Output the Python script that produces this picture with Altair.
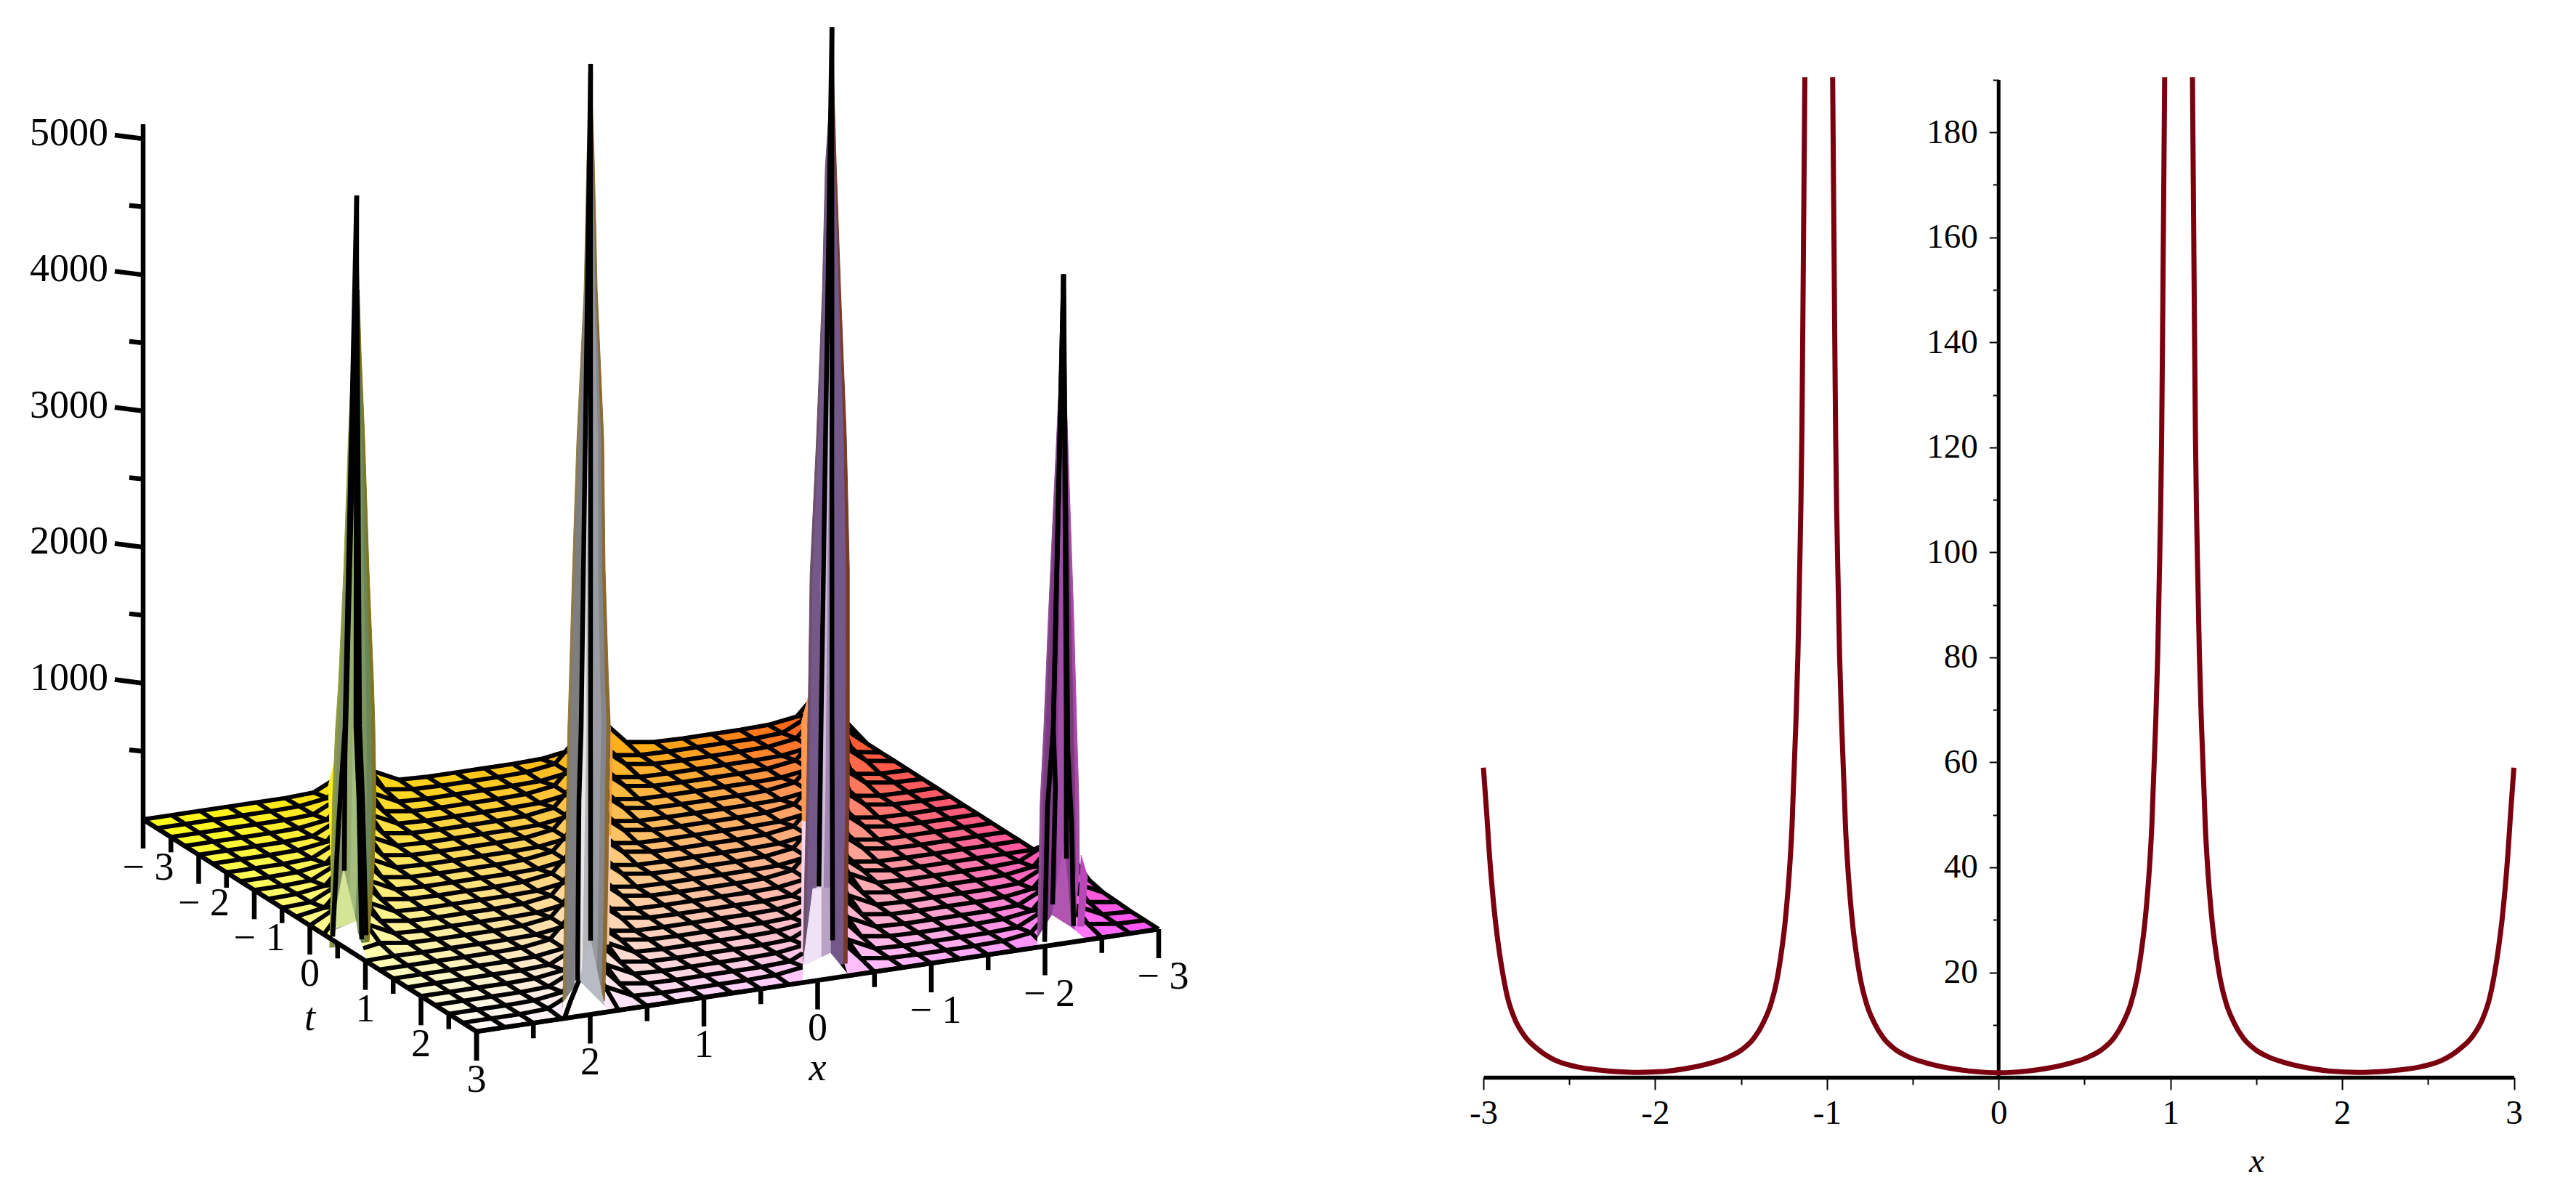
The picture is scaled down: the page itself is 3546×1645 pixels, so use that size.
import altair as alt
import pandas as pd

alt.data_transformers.disable_max_rows()

# --- right panel: curve, one list pair per branch ---
branch_a_x = [-3.0, -2.98, -2.966, -2.949, -2.931, -2.91, -2.888, -2.86, -2.818, -2.761, -2.677, -2.578, -2.465, -2.324,
              -2.264, -2.09, -1.926, -1.8, -1.672, -1.573, -1.496, -1.425, -1.369, -1.3265, -1.2913, -1.266, -1.2462, -1.2292,
              -1.2137, -1.2024, -1.1968, -1.1813, -1.1686, -1.1601, -1.1517, -1.146, -1.141, -1.136, -1.131, -1.1284]
branch_a_y = [59, 49.9, 42.9, 36, 30, 24.5, 19.9, 15.3, 11.15, 7.9, 5.2, 3.2, 2.07, 1.38,
              1.2, 0.95, 1.2, 1.8, 2.76, 3.87, 5.25, 7.46, 10.5, 13.9, 18.5, 23.6, 28.7, 34.6,
              41.6, 48.5, 53.6, 66.9, 80.7, 94.5, 108.4, 122, 140, 160, 180, 190.5]
branch_b_x = [-0.9666, -0.964, -0.959, -0.954, -0.949, -0.9433, -0.9349, -0.9264, -0.9137, -0.8982, -0.8926, -0.8813, -0.8658, -0.8488,
              -0.829, -0.8037, -0.7685, -0.726, -0.67, -0.599, -0.522, -0.423, -0.296, -0.169, 0,
              0.169, 0.296, 0.423, 0.522, 0.599, 0.67, 0.726, 0.7685, 0.8037, 0.829, 0.8488, 0.8658, 0.8813, 0.8926, 0.8982,
              0.9137, 0.9264, 0.9349, 0.9433, 0.949, 0.954, 0.959, 0.964, 0.9666]
branch_b_y = [190.5, 180, 160, 140, 122, 108.4, 94.5, 80.7, 66.9, 53.6, 48.5, 41.6, 34.6, 28.7,
              23.6, 18.5, 13.9, 10.5, 7.46, 5.25, 3.87, 2.76, 1.8, 1.2, 0.87,
              1.2, 1.8, 2.76, 3.87, 5.25, 7.46, 10.5, 13.9, 18.5, 23.6, 28.7, 34.6, 41.6, 48.5, 53.6,
              66.9, 80.7, 94.5, 108.4, 122, 140, 160, 180, 190.5]
branch_c_x = [1.1284, 1.131, 1.136, 1.141, 1.146, 1.1517, 1.1601, 1.1686, 1.1813, 1.1968, 1.2024, 1.2137, 1.2292, 1.2462, 1.266, 1.2913,
              1.3265, 1.369, 1.425, 1.496, 1.573, 1.672, 1.8, 1.926, 2.09, 2.264, 2.324, 2.465, 2.578, 2.677, 2.761, 2.818,
              2.86, 2.888, 2.91, 2.931, 2.949, 2.966, 2.98, 3.0]
branch_c_y = [190.5, 180, 160, 140, 122, 108.4, 94.5, 80.7, 66.9, 53.6, 48.5, 41.6, 34.6, 28.7, 23.6, 18.5,
              13.9, 10.5, 7.46, 5.25, 3.87, 2.76, 1.8, 1.2, 0.95, 1.2, 1.38, 2.07, 3.2, 5.2, 7.9, 11.15,
              15.3, 19.9, 24.5, 30, 36, 42.9, 49.9, 59]

x_ticks = [-3, -2.5, -2, -1.5, -1, -0.5, 0, 0.5, 1, 1.5, 2, 2.5, 3]
y_ticks = [10, 20, 30, 40, 50, 60, 70, 80, 90, 100, 110, 120, 130, 140, 150, 160, 170, 180, 190]

# --- left panel: surface heights, rows t=-3..3, columns x=3..-3 in steps of 0.25 ---
t_grid = [-3, -2.75, -2.5, -2.25, -2, -1.75, -1.5, -1.25, -1, -0.75, -0.5, -0.25, 0,
          0.25, 0.5, 0.75, 1, 1.25, 1.5, 1.75, 2, 2.25, 2.5, 2.75, 3]
x_grid = [3, 2.75, 2.5, 2.25, 2, 1.75, 1.5, 1.25, 1, 0.75, 0.5, 0.25, 0,
          -0.25, -0.5, -0.75, -1, -1.25, -1.5, -1.75, -2, -2.25, -2.5, -2.75, -3]
z_rows = [
    [0, 0, 0, 0, 0, 0, 10, 110, 110, 10, 0, 0, 0, 0, 5, 35, 250, 35, 5, 0, 0, 0, 5, 35, 250],
    [0, 0, 0, 0, 0, 5, 35, 250, 35, 5, 0, 0, 0, 5, 35, 250, 35, 5, 0, 0, 0, 0, 10, 110, 110],
    [0, 0, 0, 0, 0, 10, 110, 110, 10, 0, 0, 0, 0, 5, 35, 250, 35, 5, 0, 0, 0, 5, 35, 250, 0],
    [0, 0, 0, 0, 5, 35, 250, 35, 5, 0, 0, 0, 5, 35, 250, 35, 5, 0, 0, 0, 0, 5, 35, 250, 0],
    [0, 0, 0, 0, 10, 110, 110, 10, 0, 0, 0, 0, 5, 35, 250, 35, 5, 0, 0, 0, 5, 35, 250, 35, 0],
    [0, 0, 0, 5, 35, 250, 35, 5, 0, 0, 0, 5, 35, 250, 35, 5, 0, 0, 0, 0, 5, 35, 250, 35, 0],
    [0, 0, 0, 10, 110, 110, 10, 0, 0, 0, 0, 5, 35, 250, 35, 5, 0, 0, 0, 5, 35, 250, 35, 5, 0],
    [0, 0, 5, 35, 250, 35, 5, 0, 0, 0, 5, 35, 250, 35, 5, 0, 0, 0, 0, 5, 35, 250, 35, 5, 0],
    [0, 0, 10, 110, 110, 10, 0, 0, 0, 0, 5, 35, 250, 35, 5, 0, 0, 0, 5, 35, 250, 35, 5, 0, 0],
    [0, 5, 35, 250, 35, 5, 0, 0, 0, 5, 35, 250, 35, 5, 0, 0, 0, 0, 5, 35, 250, 35, 5, 0, 0],
    [0, 10, 110, 110, 10, 0, 0, 0, 0, 5, 35, 250, 35, 5, 0, 0, 0, 5, 35, 250, 35, 5, 0, 0, 0],
    [0, 35, 250, 35, 5, 0, 0, 0, 5, 35, 250, 35, 5, 0, 0, 0, 0, 5, 35, 250, 35, 5, 0, 0, 0],
    [0, 110, 110, 10, 0, 0, 0, 0, 5, 35, 250, 35, 5, 0, 0, 0, 5, 35, 250, 35, 5, 0, 0, 0, 0],
    [0, 250, 35, 5, 0, 0, 0, 5, 35, 250, 35, 5, 0, 0, 0, 0, 5, 35, 250, 35, 5, 0, 0, 0, 0],
    [0, 110, 10, 0, 0, 0, 0, 5, 35, 250, 35, 5, 0, 0, 0, 5, 35, 250, 35, 5, 0, 0, 0, 0, 0],
    [0, 35, 5, 0, 0, 0, 5, 35, 250, 35, 5, 0, 0, 0, 0, 5, 35, 250, 35, 5, 0, 0, 0, 0, 0],
    [0, 5, 0, 0, 0, 0, 5, 35, 250, 35, 5, 0, 0, 0, 0, 10, 110, 110, 10, 0, 0, 0, 0, 10, 110],
    [0, 0, 0, 0, 0, 5, 35, 250, 35, 5, 0, 0, 0, 0, 5, 35, 250, 35, 5, 0, 0, 0, 5, 35, 250],
    [0, 0, 0, 0, 0, 5, 35, 250, 35, 5, 0, 0, 0, 0, 10, 110, 110, 10, 0, 0, 0, 0, 10, 110, 110],
    [0, 0, 0, 0, 0, 10, 110, 110, 10, 0, 0, 0, 0, 5, 35, 250, 35, 5, 0, 0, 0, 5, 35, 250, 35],
    [0, 0, 0, 0, 5, 35, 250, 35, 5, 0, 0, 0, 0, 10, 110, 110, 10, 0, 0, 0, 0, 10, 110, 110, 10],
    [0, 0, 0, 0, 10, 110, 110, 10, 0, 0, 0, 0, 5, 35, 250, 35, 5, 0, 0, 0, 5, 35, 250, 35, 5],
    [0, 0, 0, 5, 35, 250, 35, 5, 0, 0, 0, 0, 10, 110, 110, 10, 0, 0, 0, 0, 10, 110, 110, 10, 0],
    [0, 0, 0, 10, 110, 110, 10, 0, 0, 0, 0, 5, 35, 250, 35, 5, 0, 0, 0, 5, 35, 250, 35, 5, 0],
    [0] * 25,
]

# the four spikes: foot on the floor, then left/right edge (x units) at each height
spikes = [
    {"foot": (0.78, 3.0),
     "z": [64, 598, 1131, 1665, 1985, 2796, 3767, 4413, 4867, 5560],
     "left": [-0.206, -0.193, -0.182, -0.155, -0.129, -0.084, -0.043, -0.008, 0.008, 0.027],
     "right": [0.139, 0.184, 0.201, 0.19, 0.178, 0.139, 0.101, 0.069, 0.053, 0.034],
     "colors": ["#8c9a3c", "#7f8e64", "#98ae70", "#a4bc7c", "#7a9560", "#6a8556", "#7f7520"],
     "lines": [[(-0.18, 144), (-0.129, 955), (-0.072, 1665), (0.031, 5560)],
               [(-0.078, 614), (-0.072, 1451), (0.031, 4867)],
               [(0.075, 91), (0.05, 1131), (0.024, 1665), (0.031, 5560)],
               [(0.114, 117), (0.082, 1131), (0.056, 1665), (0.034, 4867)]],
     "flares": [("#f8ee20", [(0.78, 3.167, 1419), (0.78, 3.219, 1255), (0.78, 3.193, 622), (0.78, 3.167, 618)])],
     "light": [("#d6e496", [(0.4, 3, 72), (0.608, 3, 568), (0.83, 3, 245)])],
     "notch": [(0.37, 3, 48), (0.83, 3, 245), (0.856, 3, 174), (1.01, 3, 27), (1.01, 3, 0), (0.44, 3, 0)]},
    {"foot": (3, 2.0),
     "z": [83, 515, 1049, 1582, 2116, 2436, 3247, 4218, 5318, 6278, 6982],
     "left": [-0.24, -0.233, -0.22, -0.208, -0.197, -0.185, -0.157, -0.118, -0.054, -0.029, 0],
     "right": [0.125, 0.144, 0.157, 0.163, 0.176, 0.16, 0.131, 0.118, 0.061, 0.035, 0.006],
     "colors": ["#8f7a48", "#7e7e80", "#e8e8ea", "#b8b8bc", "#9a9aa2", "#85858c", "#8a6a30"],
     "lines": [[(-0.112, 264), (-0.099, 1582), (-0.08, 2116), (0.003, 6919)],
               [(0.003, 542), (0.003, 2116), (0.003, 6982)],
               [(-0.099, 264), (-0.176, 115), (-0.227, 0)]],
     "flares": [("#f7a040", [(3, 1.824, 2094), (3, 1.805, 1934), (3, 1.821, 1292), (3, 1.837, 1294)]),
                ("#f6c8a8", [(3, 1.821, 1292), (3, 1.837, 495), (3, 1.856, 497), (3, 1.837, 1294)])],
     "light": [("#b9bcc4", [(3, 2.099, 260), (3, 1.997, 541), (3, 1.875, 46)])],
     "notch": [(3, 2.24, 113), (3, 2.099, 260), (3, 1.875, 46), (3, 1.85, 0), (3, 2.24, 0)]},
    {"foot": (3, -0.1),
     "z": [91, 784, 1318, 2118, 2983, 3954, 5054, 5961, 6495, 6985],
     "left": [-0.23, -0.213, -0.198, -0.181, -0.166, -0.111, -0.058, -0.032, 0.01, 0.026],
     "right": [0.16, 0.166, 0.179, 0.179, 0.179, 0.153, 0.102, 0.064, 0.045, 0.032],
     "colors": ["#6c4f66", "#74588a", "#d0bcdc", "#a088b2", "#75588a", "#75588a", "#7a3a28"],
     "lines": [[(-0.089, 688), (-0.07, 1852), (0.026, 6985)],
               [(0.032, 277), (0.026, 2118), (0.026, 6985)]],
     "flares": [("#ff9a50", [(3, 0.085, 2088), (3, 0.143, 1909), (3, 0.136, 1187), (3, 0.098, 1183)]),
                ("#ffd8f0", [(3, 0.136, 1187), (3, 0.143, 228), (3, 0.124, 225), (3, 0.098, 1183)])],
     "light": [("#efe2f5", [(3, 0.13, 120), (3, 0.041, 679), (3, -0.036, 672), (3, -0.036, 165)]),
               ("#b9a4c6", [(3, -0.036, 165), (3, -0.036, 672), (3, -0.113, 665), (3, -0.113, 185)])],
     "notch": [(3, 0.13, 120), (3, -0.113, 185), (3, -0.26, 17), (3, -0.298, 0), (3, 0.13, 0)]},
    {"foot": (3, -2.15),
     "z": [37, 528, 1062, 1595, 2396, 3196, 3997, 4915],
     "left": [-0.217, -0.204, -0.192, -0.16, -0.121, -0.077, -0.032, 0.01],
     "right": [0.102, 0.153, 0.147, 0.128, 0.102, 0.07, 0.038, 0.016],
     "colors": ["#8a4a90", "#7c3a80", "#8a4090", "#a04ca8", "#86408c", "#7a3a7a", "#a84aa8"],
     "lines": [[(-0.153, 32), (-0.128, 1025), (-0.077, 1595), (0.013, 4915)],
               [(-0.083, 299), (-0.058, 1158), (-0.077, 1595), (0.013, 4915)],
               [(0.038, 619), (0.038, 1595), (0.013, 4915)],
               [(0.102, 117), (0.083, 886), (0.051, 1420), (0.013, 4915)]],
     "flares": [("#b848b8", [(3, -2.316, 630), (3, -2.374, 463), (3, -2.342, 104), (3, -2.284, 111)])],
     "light": [("#b055b0", [(3, -2.061, 219), (3, -2.169, 739), (3, -2.233, 107)])],
     "notch": [(3, -1.933, 65), (3, -2.061, 219), (3, -2.233, 107), (3, -2.361, 0), (3, -1.933, 0)]},
]
spike_bands = [0, 0.07, 0.28, 0.45, 0.62, 0.8, 0.92, 1]

z_major = [1000, 2000, 3000, 4000, 5000]
z_minor = [500, 1500, 2500, 3500, 4500]
t_major = [-3, -2, -1, 0, 1, 2, 3]
t_minor = [-2.5, -1.5, -0.5, 0.5, 1.5, 2.5]
x_labelled = [-3, -2, -1, 0, 1, 2]


def proj(t, x, z=0):
    # Maple's view of the box, fitted on the corners of the floor
    return 896 + 76.5 * t - 156.5 * x, 1203.5 + 48.67 * t + 23.5 * x - 0.1874 * z


def floor_color(t, x):
    # red stays full, green falls with x (faster near x=-3), blue grows with t
    g = 255 - 19 * (3 - x) if x >= -1.5 else 170 - 58 * (-1.5 - x)
    b = 20 + 39 * (t + 3)
    return "#ff%02x%02x" % (int(g), int(b))


def tick_label(v):
    return ("\u2212 %d" % -v) if v < 0 else str(v)


PANEL_W = 1800
PANEL_H = 1629
SX = alt.X("sx:Q", scale=alt.Scale(domain=[8, 8 + PANEL_W], nice=False, zero=False), axis=None)
SY = alt.Y("sy:Q", scale=alt.Scale(domain=[8 + PANEL_H, 8], nice=False, zero=False), axis=None)

polys = []
lines = []
texts = []


def add_poly(name, color, pts):
    for k, p in enumerate(pts):
        polys.append({"id": name, "c": color, "k": k, "sx": p[0], "sy": p[1]})


def add_line(name, pts, layer="grid"):
    for k, p in enumerate(pts):
        lines.append({"id": name, "k": k, "sx": p[0], "sy": p[1], "layer": layer})


# floor cells and grid
for j in range(24):
    for i in range(24):
        corners = [(j, i), (j + 1, i), (j + 1, i + 1), (j, i + 1)]
        pts = [proj(t_grid[a], x_grid[b], z_rows[a][b]) for a, b in corners]
        add_poly("cell%d_%d" % (j, i), floor_color((t_grid[j] + t_grid[j + 1]) / 2, (x_grid[i] + x_grid[i + 1]) / 2), pts)
for j in range(25):
    add_line("row%d" % j, [proj(t_grid[j], x_grid[i], z_rows[j][i]) for i in range(25)])
for i in range(25):
    add_line("col%d" % i, [proj(t_grid[j], x_grid[i], z_rows[j][i]) for j in range(25)])

floor_cells = pd.DataFrame(polys)
polys = []

# spikes
for n, s in enumerate(spikes):
    t0, x0 = s["foot"]
    for m, (col, pts) in enumerate(s["flares"]):
        add_poly("s%d_f%d" % (n, m), col, [proj(*p) for p in pts])
    for b in range(len(spike_bands) - 1):
        f1, f2 = spike_bands[b], spike_bands[b + 1]
        up = [proj(t0, x0 - (l + (r - l) * f1), z) for l, r, z in zip(s["left"], s["right"], s["z"])]
        down = [proj(t0, x0 - (l + (r - l) * f2), z) for l, r, z in zip(s["left"], s["right"], s["z"])]
        add_poly("s%d_b%d" % (n, b), s["colors"][b], up + down[::-1])
    for m, (col, pts) in enumerate(s["light"]):
        add_poly("s%d_light%d" % (n, m), col, [proj(*p) for p in pts])
    add_poly("s%d_notch" % n, "#ffffff", [proj(*p) for p in s["notch"]])
    for m, ln in enumerate(s["lines"]):
        add_line("s%d_l%d" % (n, m), [proj(t0, x0 - u, z) for u, z in ln], "spike")
spike_polys = pd.DataFrame(polys)

# edges drawn again over the notches
add_line("edge_t3", [proj(3, v) for v in (3, -3)], "spike")
add_line("edge_x3", [proj(v, 3) for v in (-3, 3)], "spike")

# box axes
for v in t_major + t_minor:
    sx, sy = proj(v, 3)
    add_line("t%s" % v, [(sx, sy), (sx, sy + (40 if v in t_major else 21))], "spike")
    sx2, sy2 = proj(3, -v)
    add_line("x%s" % v, [(sx2, sy2), (sx2, sy2 + (40 if v in t_major else 21))], "spike")
for v in t_major:
    sx, sy = proj(v, 3)
    texts.append({"sx": sx + (7 if v < 0 else 0), "sy": sy + 67, "label": tick_label(v), "style": "normal", "align": "center"})
for v in x_labelled:
    sx, sy = proj(3, v)
    texts.append({"sx": sx + (6 if v < 0 else 0), "sy": sy + 66, "label": tick_label(v), "style": "normal", "align": "center"})
sx, sy = proj(0, 3)
texts.append({"sx": sx, "sy": sy + 128, "label": "t", "style": "italic", "align": "center"})
sx, sy = proj(3, 0)
texts.append({"sx": sx, "sy": sy + 121, "label": "x", "style": "italic", "align": "center"})

base_x, base_y = proj(-3, 3)
add_line("zaxis", [(base_x, base_y), proj(-3, 3, 5107)], "spike")
for v in z_major + z_minor:
    sx, sy = proj(-3, 3, v)
    if v in z_major:
        add_line("z%d" % v, [(sx - 39, sy - 5), (sx, sy)], "spike")
        texts.append({"sx": sx - 48, "sy": sy - 7, "label": str(v), "style": "normal", "align": "right"})
    else:
        add_line("z%d" % v, [(sx - 19, sy - 2), (sx, sy)], "spike")

line_df = pd.DataFrame(lines)
text_df = pd.DataFrame(texts)


def poly_layer(df):
    return alt.Chart(df).mark_line(strokeWidth=1).encode(
        x=SX, y=SY, detail="id:N", order="k:Q",
        fill=alt.Fill("c:N", scale=None),
        stroke=alt.Stroke("c:N", scale=None),
    )


def line_layer(df, width):
    return alt.Chart(df).mark_line(color="black", strokeWidth=width).encode(
        x=SX, y=SY, detail="id:N", order="k:Q",
    )


text_right = alt.Chart(text_df[text_df["align"] == "right"]).mark_text(
    font="Liberation Serif", fontSize=54, align="right", baseline="middle", color="black"
).encode(x=SX, y=SY, text="label:N")
text_center = alt.Chart(text_df[(text_df["align"] == "center") & (text_df["style"] == "normal")]).mark_text(
    font="Liberation Serif", fontSize=54, align="center", baseline="middle", color="black"
).encode(x=SX, y=SY, text="label:N")
text_italic = alt.Chart(text_df[text_df["style"] == "italic"]).mark_text(
    font="Liberation Serif", fontSize=54, fontStyle="italic", align="center", baseline="middle", color="black"
).encode(x=SX, y=SY, text="label:N")

left = alt.layer(
    poly_layer(floor_cells),
    line_layer(line_df[line_df["layer"] == "grid"], 6),
    poly_layer(spike_polys),
    line_layer(line_df[line_df["layer"] == "spike"], 6.5),
    text_right, text_center, text_italic,
).properties(width=PANEL_W, height=PANEL_H)

# --- right panel ---
curve = pd.DataFrame({
    "x": branch_a_x + branch_b_x + branch_c_x,
    "y": branch_a_y + branch_b_y + branch_c_y,
    "branch": ["a"] * len(branch_a_x) + ["b"] * len(branch_b_x) + ["c"] * len(branch_c_x),
})

RIGHT_W = 1418.5
x_scale = alt.Scale(domain=[-3, 3], nice=False, zero=False)
y_scale = alt.Scale(domain=[-21.3, 204.1], nice=False, zero=False)

x_axis = alt.Axis(
    values=x_ticks, offset=-154, grid=False, domainWidth=5.5, domainColor="black",
    tickColor="black", tickWidth=2,
    tickSize={"condition": {"test": "datum.value % 1 === 0", "value": 17}, "value": 10},
    labelExpr="datum.value % 1 === 0 ? '' + datum.value : ''", labelFont="Liberation Serif", labelFontSize=47,
    labelColor="black", labelPadding=9, labelOverlap=False, labelFlush=False, labelAngle=0,
    title="x", titleFont="Liberation Serif", titleFontSize=47, titleFontStyle="italic", titleFontWeight="normal",
    titleColor="black", titleX=1064, titleY=115, titleAlign="center", titleBaseline="middle",
)
y_axis = alt.Axis(
    values=y_ticks, offset=-RIGHT_W / 2, grid=False, domain=False,
    tickColor="black", tickWidth=2,
    tickSize={"condition": {"test": "datum.value % 20 === 0", "value": 13}, "value": 8},
    labelExpr="datum.value % 20 === 0 ? '' + datum.value : ''", labelFont="Liberation Serif", labelFontSize=47,
    labelColor="black", labelPadding=16, labelOverlap=False, labelBaseline="middle", title=None,
)

curve_line = alt.Chart(curve).mark_line(color="#7a0010", strokeWidth=7, interpolate="monotone").encode(
    x=alt.X("x:Q", scale=x_scale, axis=x_axis),
    y=alt.Y("y:Q", scale=y_scale, axis=y_axis),
    detail="branch:N",
)
y_rule = alt.Chart(pd.DataFrame({"x0": [0], "y0": [0], "y1": [190]})).mark_rule(color="black", strokeWidth=5).encode(
    x=alt.X("x0:Q", scale=x_scale), y=alt.Y("y0:Q", scale=y_scale), y2="y1:Q",
)
right = alt.layer(y_rule, curve_line).properties(width=RIGHT_W, height=PANEL_H)

chart = alt.hconcat(left, right, spacing=214).properties(padding=0, background="white").configure_view(stroke=None)
chart.save("out.html", embed_options={"renderer": "svg", "actions": False})
